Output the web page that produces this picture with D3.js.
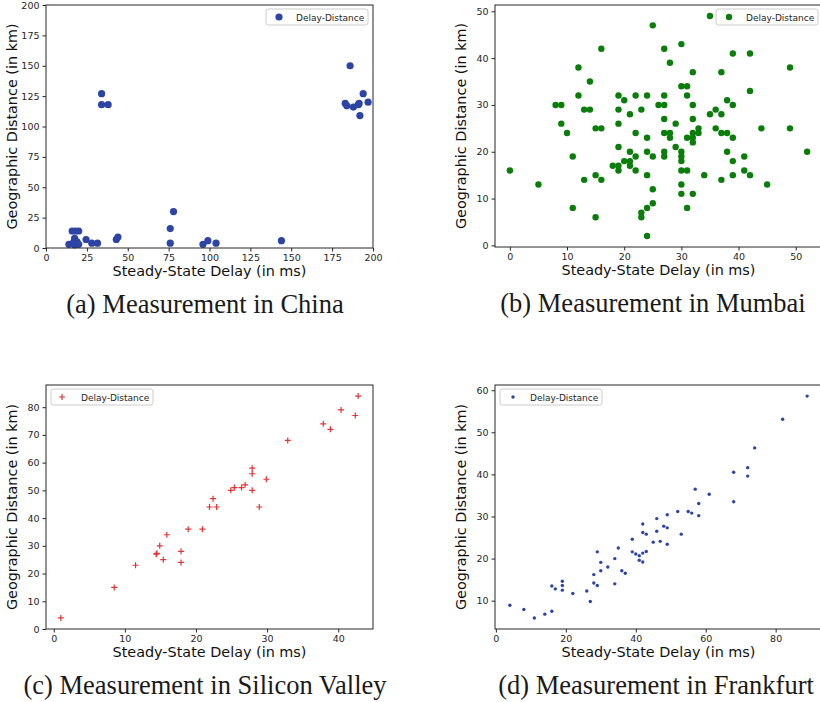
<!DOCTYPE html>
<html>
<head>
<meta charset="utf-8">
<script src="https://cdn.jsdelivr.net/npm/d3@7"></script>
<style>
  body { margin: 0; background: #fff; }
  svg { display: block; }
  .tick text { font-family: "DejaVu Sans", sans-serif; font-size: 9.5px; fill: #262626; }
  .tick line { stroke: #262626; }
</style>
</head>
<body>
<svg id="chart" width="820" height="702"></svg>
<script>
// ---- data ----
const chinaDelay = [14, 16, 18, 20, 17.5, 17, 19, 17.5, 20, 24.5, 28, 31.5, 34, 34, 38, 43, 44,
  76, 76, 78, 96, 99, 104, 144, 183, 184, 186, 188, 191, 191.5, 192, 194, 197];
const chinaDistance = [3, 14, 14, 14, 8, 5, 5, 2.5, 3, 7, 4, 4, 127, 118, 118, 7, 9,
  16, 4, 30, 3, 6, 4, 6, 119, 117, 150, 116, 118, 119, 109, 127, 120];

const mumbaiDelay = [0, 5, 8, 9, 9, 10, 11, 11, 12, 12, 13, 13, 14, 14, 15, 15, 15, 16, 16, 16, 18,
  19, 19, 19, 19, 19, 19, 20, 20, 21, 21, 21, 21, 22, 22, 22, 22, 23, 23, 23, 24, 24, 24, 24, 24, 24,
  25, 25, 25, 25, 26, 27, 27, 27, 27, 27, 27, 27, 28, 28, 28, 29, 29, 30, 30, 30, 30, 30, 30, 30, 30,
  31, 31, 31, 31, 31, 32, 32, 32, 32, 32, 32, 32, 33, 33, 34, 35, 35, 36, 36, 37, 37, 37, 37, 38, 38, 38,
  39, 39, 39, 39, 39, 41, 41, 42, 42, 42, 44, 45, 49, 49, 52];
const mumbaiDistance = [16, 13, 30, 30, 26, 24, 19, 8, 32, 38, 29, 14, 35, 29, 25, 15, 6, 42, 25, 14, 17,
  32, 29, 26, 21, 17, 16, 31, 18, 28, 20, 18, 17, 32, 24, 19, 16, 29, 7, 6, 32, 23, 20, 15, 8, 2,
  47, 19, 12, 9, 30, 42, 32, 30, 27, 24, 20, 19, 39, 24, 23, 26, 21, 43, 34, 20, 19, 18, 16, 13, 11,
  34, 32, 23, 16, 8, 37, 30, 27, 24, 23, 22, 11, 25, 24, 15, 49, 28, 29, 25, 37, 28, 24, 14, 31, 24, 20,
  41, 30, 23, 18, 15, 19, 16, 41, 33, 15, 25, 13, 38, 25, 20];

const svDelay = [1, 8.5, 11.5, 14.4, 14.5, 14.9, 15.4, 15.9, 17.9, 17.9, 18.9, 20.9, 21.9, 22.4, 22.9,
  24.9, 25.4, 26.4, 26.9, 27.9, 27.9, 27.9, 28.9, 29.9, 32.9, 37.9, 38.9, 40.4, 42.4, 42.8];
const svDistance = [4, 15, 23, 27, 27.3, 30, 25, 34, 28, 24, 36, 36, 44, 47, 44,
  50, 51, 51, 52, 58, 56, 50, 44, 54, 68, 74, 72, 79, 77, 84];

const frDelay = [4, 8, 11, 14, 16, 16, 17, 19, 19, 19, 22, 26, 27, 28, 28, 29, 29, 30, 30, 32, 34, 34,
  35, 36, 37, 39, 39, 40, 41, 41, 42, 42, 42, 42, 43, 43, 45, 46, 46, 47, 48, 49, 49, 49, 52, 53,
  55, 56, 57, 58, 58, 61, 68, 68, 72, 72, 74, 82, 89];
const frDistance = [8.9, 7.9, 5.9, 6.8, 7.5, 13.5, 12.8, 14.6, 13.6, 12.5, 11.7, 12.3, 9.8, 16.2, 14.2,
  21.6, 13.6, 19.1, 17.1, 18, 20, 14, 22.5, 17.1, 16.5, 24.6, 21.6, 21.1, 20.7, 19.6, 28.2, 26.2, 21.3,
  19.2, 25.8, 21.7, 23.9, 29.5, 26.5, 24.1, 27.7, 30.4, 27.3, 23.4, 31.2, 25.8, 31.2, 30.8, 36.5, 33.1,
  30.2, 35.3, 40.5, 33.5, 41.6, 39.6, 46.3, 53.1, 58.6];

// tick labels
const chinaTicks = [0, 25, 50, 75, 100, 125, 150, 175, 200];
const mumbaiXTicks = [0, 10, 20, 30, 40, 50];
const mumbaiYTicks = [0, 10, 20, 30, 40, 50];
const svXTicks = [0, 10, 20, 30, 40];
const svYTicks = [0, 10, 20, 30, 40, 50, 60, 70, 80];
const frXTicks = [0, 20, 40, 60, 80];
const frYTicks = [10, 20, 30, 40, 50, 60];

const captions = ["(a) Measurement in China", "(b) Measurement in Mumbai",
  "(c) Measurement in Silicon Valley", "(d) Measurement in Frankfurt"];
const seriesName = "Delay-Distance";

const svg = d3.select("#chart");

// one panel = one matplotlib axes
function drawPanel(p) {
  const g = svg.append("g").attr("transform", `translate(${p.left},${p.top})`);
  const w = 327, h = p.height;

  const x = d3.scaleLinear().domain(p.xDomain).range([0, w]);
  const y = d3.scaleLinear().domain(p.yDomain).range([h, 0]);

  const xAxis = g.append("g")
    .attr("transform", `translate(0,${h})`)
    .call(d3.axisBottom(x).tickValues(p.xTicks).tickSize(3.5).tickPadding(3).tickFormat(d3.format("d")));
  const yAxis = g.append("g")
    .call(d3.axisLeft(y).tickValues(p.yTicks).tickSize(3.5).tickPadding(3).tickFormat(d3.format("d")));
  xAxis.select(".domain").remove();
  yAxis.select(".domain").remove();

  // axis titles
  g.append("text")
    .attr("x", w / 2)
    .attr("y", h + 28)
    .attr("text-anchor", "middle")
    .attr("font-family", "DejaVu Sans, sans-serif")
    .attr("font-size", 14.4)
    .attr("fill", "#111")
    .text("Steady-State Delay (in ms)");
  g.append("text")
    .attr("transform", `translate(-29,${h / 2})rotate(-90)`)
    .attr("text-anchor", "middle")
    .attr("font-family", "DejaVu Sans, sans-serif")
    .attr("font-size", 14.4)
    .attr("fill", "#111")
    .text("Geographic Distance (in km)");

  // points
  const pts = p.xs.map((d, i) => [d, p.ys[i]]);
  const marks = g.append("g");
  if (p.marker === "plus") {
    marks.selectAll("path").data(pts).join("path")
      .attr("d", d => {
        const cx = x(d[0]), cy = y(d[1]), s = 3;
        return `M${cx - s},${cy}H${cx + s}M${cx},${cy - s}V${cy + s}`;
      })
      .attr("stroke", p.color)
      .attr("stroke-width", 1.2)
      .attr("fill", "none");
  } else {
    marks.selectAll("circle").data(pts).join("circle")
      .attr("cx", d => x(d[0]))
      .attr("cy", d => y(d[1]))
      .attr("r", p.r)
      .attr("fill", p.color);
  }

  // frame
  g.append("rect")
    .attr("width", w).attr("height", h)
    .attr("fill", "none")
    .attr("stroke", "#262626")
    .attr("stroke-width", 1);

  // legend
  const lg = g.append("g").attr("transform", `translate(${p.legend[0] - p.left},${p.legend[1] - p.top})`);
  lg.append("rect")
    .attr("width", 102).attr("height", 16)
    .attr("rx", 2.5)
    .attr("fill", "white").attr("fill-opacity", 0.85)
    .attr("stroke", "#cccccc");
  if (p.marker === "plus") {
    lg.append("path")
      .attr("d", "M8,8H14M11,5V11")
      .attr("stroke", p.color).attr("stroke-width", 1.2);
  } else {
    lg.append("circle").attr("cx", 13).attr("cy", 8).attr("r", p.r).attr("fill", p.color);
  }
  lg.append("text")
    .attr("x", 30).attr("y", 11.5)
    .attr("font-family", "DejaVu Sans, sans-serif")
    .attr("font-size", 9)
    .attr("fill", "#262626")
    .text(seriesName);

  // caption
  svg.append("text")
    .attr("x", p.capX)
    .attr("y", p.top + h + 65)
    .attr("text-anchor", "middle")
    .attr("font-family", "Liberation Serif, serif")
    .attr("font-size", 26.5)
    .attr("fill", "#1a1a1a")
    .text(p.caption);
}

drawPanel({
  left: 46, top: 5, height: 243,
  xDomain: [0, 200], yDomain: [0, 200],
  xTicks: chinaTicks, yTicks: chinaTicks,
  xs: chinaDelay, ys: chinaDistance,
  marker: "dot", r: 3.6, color: "#2c44a3",
  legend: [266, 9], caption: captions[0], capX: 205
});
drawPanel({
  left: 495, top: 5, height: 242,
  xDomain: [-2.6, 54.6], yDomain: [-0.35, 51.35],
  xTicks: mumbaiXTicks, yTicks: mumbaiYTicks,
  xs: mumbaiDelay, ys: mumbaiDistance,
  marker: "dot", r: 3.2, color: "#0a7d0a",
  legend: [716, 9], caption: captions[1], capX: 653
});
drawPanel({
  left: 46, top: 385, height: 244,
  xDomain: [-1.09, 44.89], yDomain: [0, 88],
  xTicks: svXTicks, yTicks: svYTicks,
  xs: svDelay, ys: svDistance,
  marker: "plus", color: "#e33434",
  legend: [51, 389], caption: captions[2], capX: 205
});
drawPanel({
  left: 495, top: 385, height: 244,
  xDomain: [-0.25, 93.25], yDomain: [3.27, 61.24],
  xTicks: frXTicks, yTicks: frYTicks,
  xs: frDelay, ys: frDistance,
  marker: "dot", r: 1.7, color: "#2c44a3",
  legend: [500, 389], caption: captions[3], capX: 656
});
</script>
</body>
</html>
